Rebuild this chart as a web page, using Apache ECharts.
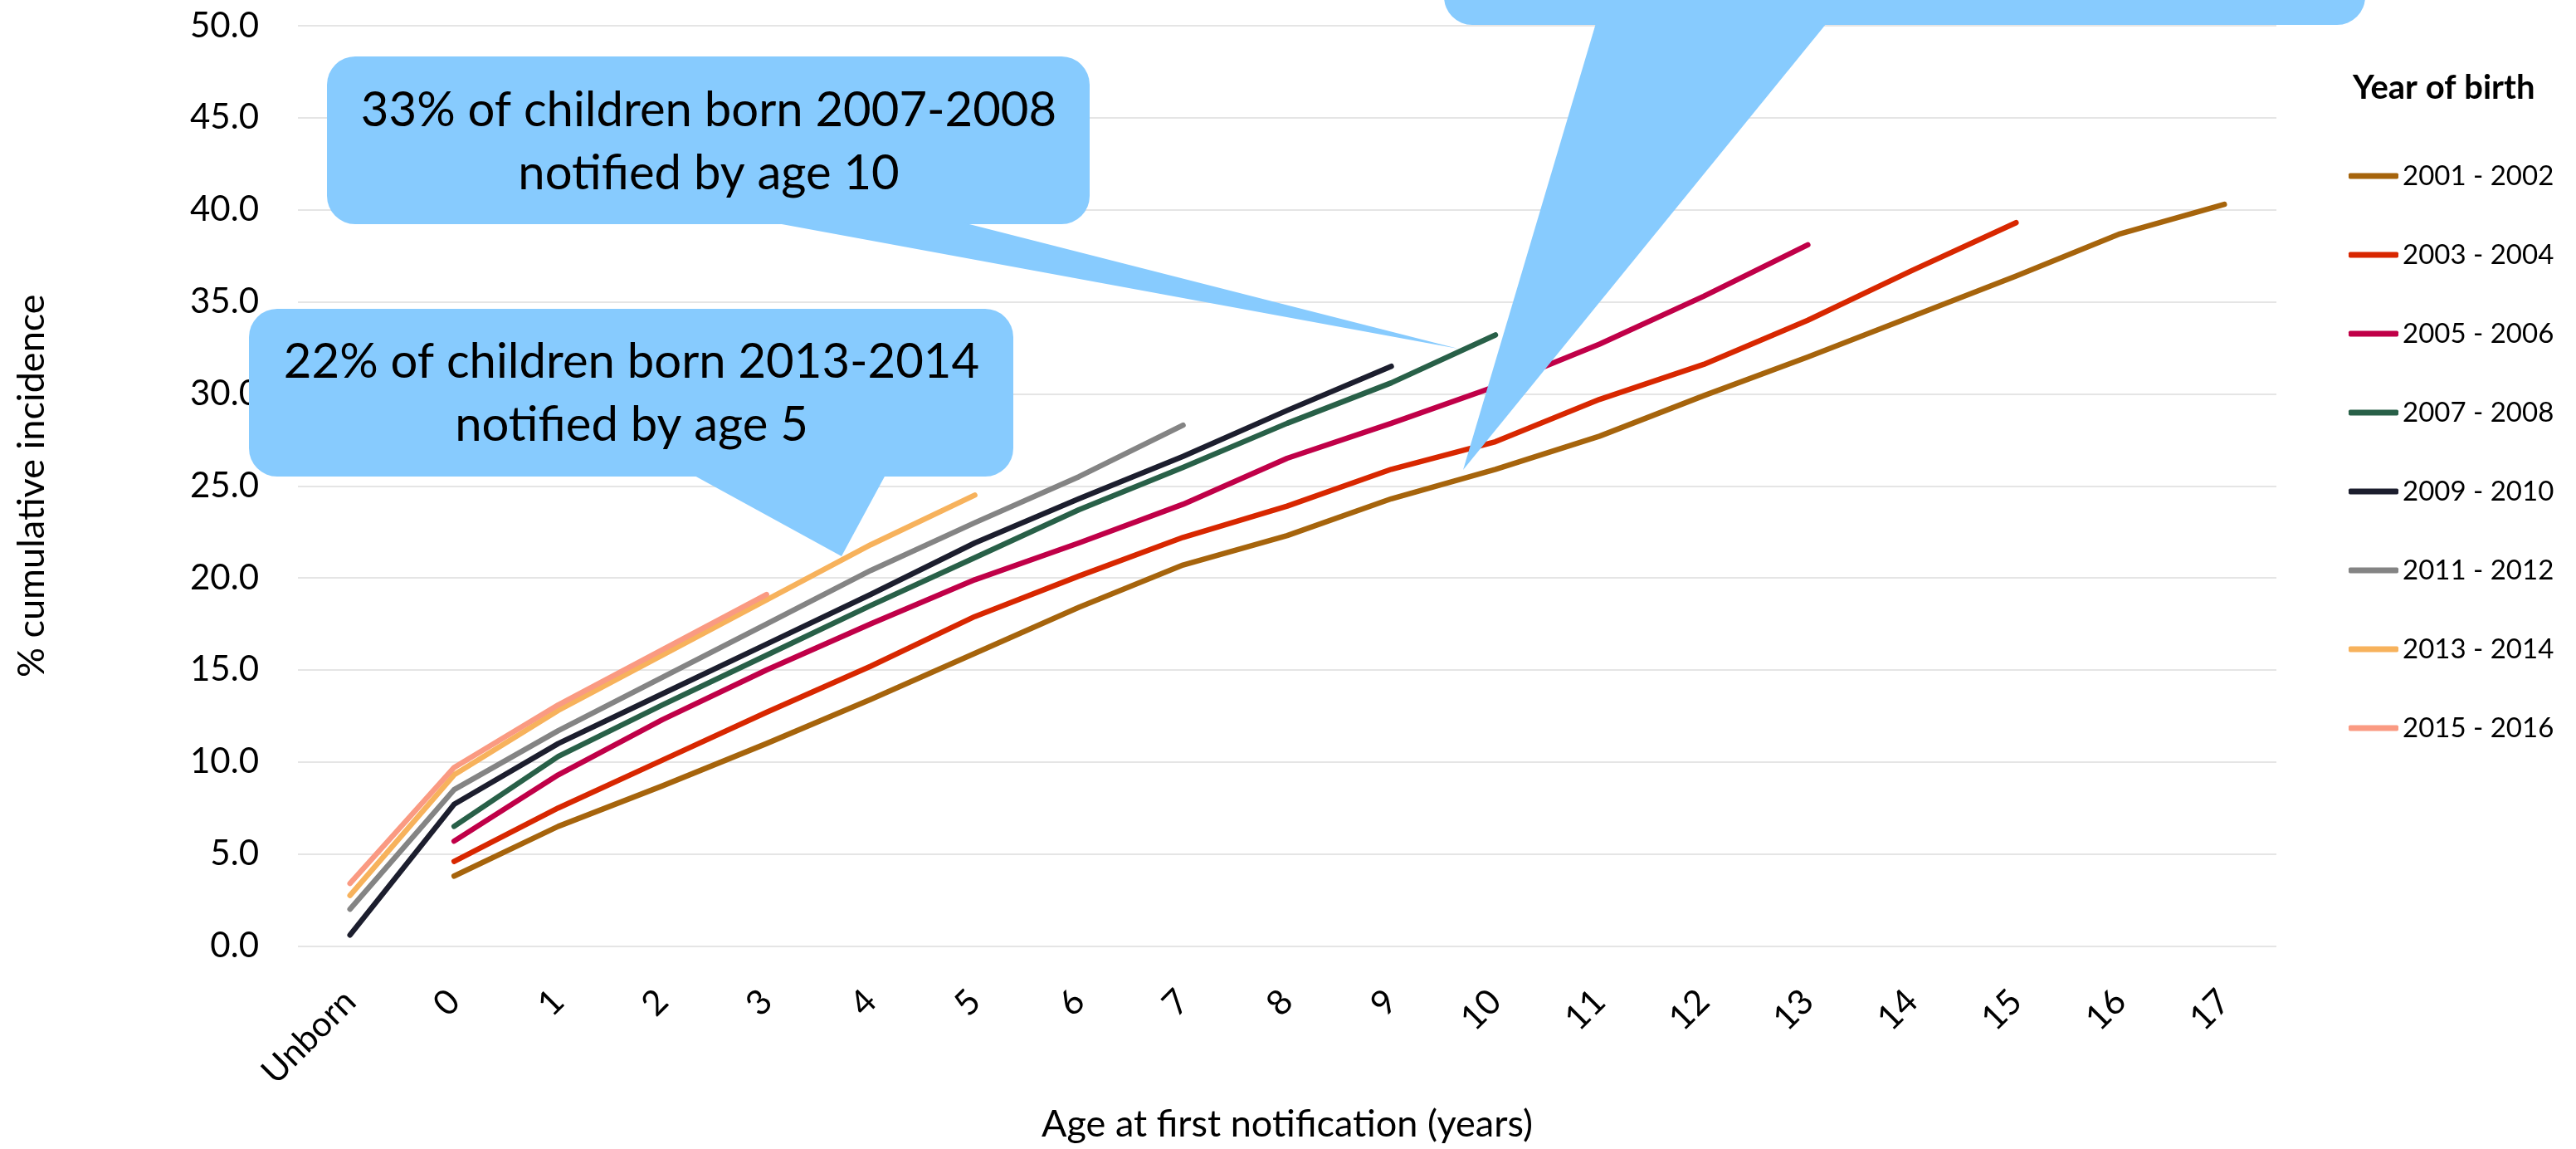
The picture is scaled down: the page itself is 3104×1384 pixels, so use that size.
<!DOCTYPE html>
<html>
<head>
<meta charset="utf-8">
<title>Cumulative incidence by year of birth</title>
<script src="https://cdn.jsdelivr.net/npm/echarts/dist/echarts.min.js"></script>
<style>
    body { margin: 0; background: #fff; }
    #chart { width: 3104px; height: 1384px; }
</style>
</head>
<body>
<div id="chart"></div>
<script>
    // age at first notification
    const categories = ['Unborn', '0', '1', '2', '3', '4', '5', '6', '7', '8', '9',
        '10', '11', '12', '13', '14', '15', '16', '17'];

    const cohortNames = ['2001 - 2002', '2003 - 2004', '2005 - 2006', '2007 - 2008',
        '2009 - 2010', '2011 - 2012', '2013 - 2014', '2015 - 2016'];

    // % cumulative incidence, one array per birth cohort
    const born2001 = [null, 3.8, 6.5, 8.7, 11.0, 13.4, 15.9, 18.4, 20.7, 22.3, 24.3, 25.9, 27.7, 29.9, 32.0, 34.2, 36.4, 38.7, 40.3];
    const born2003 = [null, 4.6, 7.5, 10.1, 12.7, 15.2, 17.9, 20.1, 22.2, 23.9, 25.9, 27.4, 29.7, 31.6, 34.0, 36.7, 39.3];
    const born2005 = [null, 5.7, 9.3, 12.3, 15.0, 17.5, 19.9, 21.9, 24.0, 26.5, 28.4, 30.4, 32.7, 35.3, 38.1];
    const born2007 = [null, 6.5, 10.3, 13.1, 15.8, 18.5, 21.1, 23.7, 26.0, 28.4, 30.6, 33.2];
    const born2009 = [0.6, 7.7, 11.0, 13.7, 16.4, 19.1, 21.9, 24.3, 26.6, 29.1, 31.5];
    const born2011 = [2.0, 8.5, 11.7, 14.6, 17.5, 20.4, 23.0, 25.5, 28.3];
    const born2013 = [2.75, 9.3, 12.8, 15.8, 18.8, 21.8, 24.5];
    const born2015 = [3.4, 9.7, 13.1, 16.1, 19.1];

    const cohortValues = [born2001, born2003, born2005, born2007, born2009, born2011, born2013, born2015];
    const cohortColors = ['#A6640C', '#D82700', '#C00048', '#286048', '#1C1E2E', '#848484', '#F7B25C', '#FA9A82'];

    const calloutText1 = '33% of children born 2007-2008\nnotified by age 10';
    const calloutText2 = '22% of children born 2013-2014\nnotified by age 5';

    const font = 'Lato';
    const blue = '#87CBFE';

    function callout(box, pointer, text, textX, textY) {
        let items = [
            { type: 'rect', z: 100, shape: { x: box[0], y: box[1], width: box[2], height: box[3], r: 34 }, style: { fill: blue } },
            { type: 'polygon', z: 100, shape: { points: pointer }, style: { fill: blue } }
        ];
        if (text) {
            items.push({
                type: 'text', z: 101, x: textX, y: textY,
                style: {
                    text: text, fill: '#000', font: '58px ' + font,
                    textAlign: 'center', textVerticalAlign: 'middle', lineHeight: 76
                }
            });
        }
        return items;
    }

    let mChart = echarts.init(document.getElementById('chart'));

    let options = {
        backgroundColor: '#fff',
        animation: false,
        title: {
            text: 'Year of birth',
            left: 2835,
            top: 82,
            padding: 0,
            textStyle: { fontFamily: font, fontSize: 40, fontWeight: 'bold', color: '#000', lineHeight: 48 }
        },
        legend: {
            orient: 'vertical',
            left: 2830,
            top: 192,
            padding: 0,
            itemGap: 55,
            itemWidth: 60,
            itemHeight: 7,
            icon: 'roundRect',
            data: cohortNames,
            textStyle: { fontFamily: font, fontSize: 33, color: '#000', lineHeight: 40 }
        },
        grid: {
            left: 359,
            right: 361,
            top: 31,
            bottom: 244.5
        },
        xAxis: {
            type: 'category',
            data: categories,
            boundaryGap: true,
            name: 'Age at first notification (years)',
            nameLocation: 'middle',
            nameGap: 192,
            nameTextStyle: { fontFamily: font, fontSize: 45, color: '#000' },
            axisLine: { show: false },
            axisTick: { show: false },
            axisLabel: {
                rotate: 45,
                margin: 60,
                interval: 0,
                fontFamily: font,
                fontSize: 42,
                color: '#000'
            }
        },
        yAxis: {
            type: 'value',
            min: 0,
            max: 50,
            interval: 5,
            name: '% cumulative incidence',
            nameLocation: 'middle',
            nameGap: 298,
            nameTextStyle: { fontFamily: font, fontSize: 45, color: '#000' },
            axisLine: { show: false },
            axisTick: { show: false },
            axisLabel: {
                margin: 47,
                fontFamily: font,
                fontSize: 42,
                color: '#000',
                formatter: function (v) { return v.toFixed(1); }
            },
            splitLine: { lineStyle: { color: '#E5E5E5', width: 2 } }
        },
        series: cohortNames.map(function (name, i) {
            return {
                name: name,
                type: 'line',
                data: cohortValues[i],
                color: cohortColors[i],
                symbol: 'none',
                connectNulls: false,
                lineStyle: { width: 6.5, cap: 'round', join: 'round' }
            };
        }),
        graphic: [].concat(
            callout([394, 68, 919, 202], [[931, 268], [1160, 268], [1757, 420]], calloutText1, 854, 171),
            callout([300, 372, 921, 202], [[835, 572], [1067, 572], [1014, 670]], calloutText2, 761, 474),
            callout([1740, -170, 1110, 200], [[1923, 28], [2201, 28], [1763, 566]])
        )
    };

    mChart.setOption(options);
</script>
</body>
</html>
